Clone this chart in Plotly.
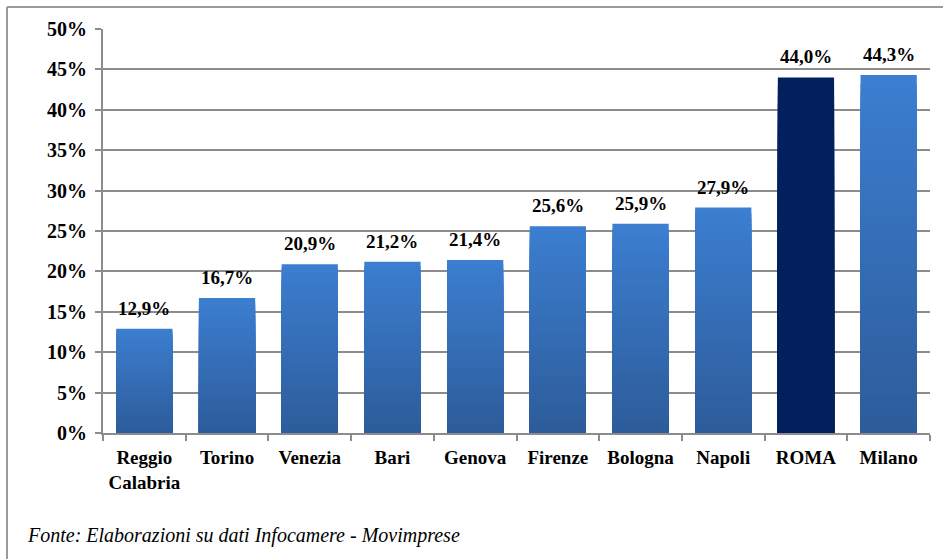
import plotly.graph_objects as go

# Share of firms by city (%)
cities = ["Reggio<br>Calabria", "Torino", "Venezia", "Bari", "Genova",
          "Firenze", "Bologna", "Napoli", "ROMA", "Milano"]
values = [12.9, 16.7, 20.9, 21.2, 21.4, 25.6, 25.9, 27.9, 44.0, 44.3]
highlight = "ROMA"

y_ticks = [0, 5, 10, 15, 20, 25, 30, 35, 40, 45, 50]

SERIF = "Liberation Serif"
TOP = (60, 126, 208)
BOTTOM = (45, 92, 154)
NAVY = "#02205e"
N_STEPS = 40


def mix(t):
    r, g, b = (round(BOTTOM[i] + (TOP[i] - BOTTOM[i]) * t) for i in range(3))
    return f"rgb({r},{g},{b})"


fig = go.Figure()

# gradient fill: full-height bar first, then progressively shorter and darker
# bars drawn on top of it, all starting from zero
for k in range(N_STEPS):
    frac = (N_STEPS - k) / N_STEPS
    t = (N_STEPS - k - 0.5) / N_STEPS
    colors = [NAVY if c == highlight else mix(t) for c in cities]
    fig.add_trace(go.Bar(
        x=cities,
        y=[v * frac for v in values],
        marker=dict(color=colors, line=dict(width=0)),
        width=0.68,
        hoverinfo="skip",
        showlegend=False,
    ))

labels = [
    dict(
        x=c, y=v, xref="x", yref="y",
        text=f"{v:.1f}%".replace(".", ","),
        showarrow=False, yanchor="bottom", yshift=8,
        font=dict(family=SERIF, size=19, color="black", weight="bold"),
    )
    for c, v in zip(cities, values)
]

fig.update_layout(
    width=943,
    height=559,
    margin=dict(l=103, r=13, t=29, b=126),
    paper_bgcolor="white",
    plot_bgcolor="white",
    barmode="overlay",
    font=dict(family=SERIF, color="black"),
    xaxis=dict(
        type="category",
        showline=True,
        linecolor="#8c8c8c",
        linewidth=2,
        ticks="outside",
        tickson="boundaries",
        ticklen=6,
        tickcolor="#8c8c8c",
        tickwidth=1.5,
        ticklabelstandoff=6,
        tickfont=dict(family=SERIF, size=19, weight="bold", color="black"),
        showgrid=False,
    ),
    yaxis=dict(
        range=[0, 50],
        tickvals=y_ticks,
        ticktext=[f"{v}%" for v in y_ticks],
        showline=True,
        linecolor="#8c8c8c",
        linewidth=2,
        ticks="outside",
        ticklen=6,
        tickcolor="#8c8c8c",
        tickwidth=1.5,
        ticklabelstandoff=4,
        showgrid=True,
        gridcolor="#8c8c8c",
        gridwidth=1.5,
        tickfont=dict(family=SERIF, size=20, weight="bold", color="black"),
        zeroline=False,
    ),
    annotations=labels + [dict(
        text="<i>Fonte: Elaborazioni su dati Infocamere - Movimprese</i>",
        xref="paper", yref="paper",
        x=(25 - 103) / 827, y=-(535 - 433) / 404,
        xanchor="left", yanchor="middle",
        showarrow=False,
        font=dict(family=SERIF, size=20, color="black"),
    )],
    shapes=[
        # frame around the chart
        dict(type="line", xref="paper", yref="paper",
             x0=(7 - 103) / 827, x1=(943 - 103) / 827,
             y0=(433 - 7) / 404, y1=(433 - 7) / 404,
             line=dict(color="#9a9a9a", width=2)),
        dict(type="line", xref="paper", yref="paper",
             x0=(7 - 103) / 827, x1=(7 - 103) / 827,
             y0=(433 - 7) / 404, y1=-(559 - 433) / 404,
             line=dict(color="#9a9a9a", width=2)),
    ],
)

fig.write_html("out.html")
